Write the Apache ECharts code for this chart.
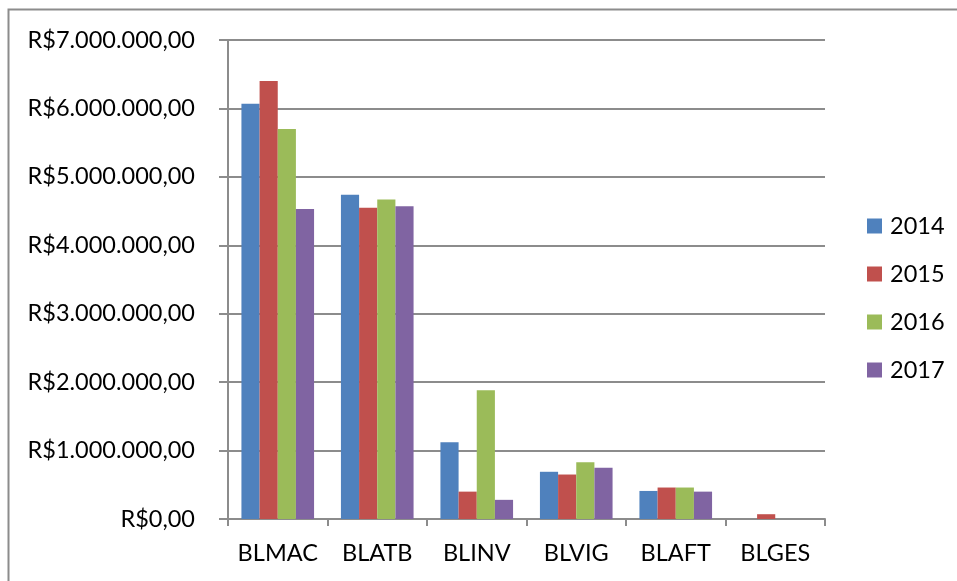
<!DOCTYPE html>
<html>
<head>
<meta charset="utf-8">
<script src="https://cdn.jsdelivr.net/npm/echarts@6/dist/echarts.min.js"></script>
<style>
  html, body { margin: 0; padding: 0; background: #fff; }
  #chart { width: 957px; height: 581px; }
</style>
</head>
<body>
<div id="chart"></div>
<script>
// Categories and yearly values (R$)
const categories = ['BLMAC', 'BLATB', 'BLINV', 'BLVIG', 'BLAFT', 'BLGES'];
const years = ['2014', '2015', '2016', '2017'];
const values2014 = [6070000, 4740000, 1120000, 690000, 410000, 0];
const values2015 = [6400000, 4550000, 400000, 650000, 460000, 70000];
const values2016 = [5700000, 4670000, 1880000, 830000, 460000, 0];
const values2017 = [4530000, 4570000, 280000, 750000, 400000, 0];
const seriesValues = [values2014, values2015, values2016, values2017];
const colors = ['#4F81BD', '#C0504D', '#9BBB59', '#8064A2'];

const FONT = 'Lato, "Open Sans", sans-serif';
const FONT_SIZE = 23.5;
const GRID_COLOR = '#8c8c8c';

function brl(v) {
  const s = Math.round(v).toString().replace(/\B(?=(\d{3})+(?!\d))/g, '.');
  return 'R$' + s + ',00';
}

const chart = echarts.init(document.getElementById('chart'), null, { renderer: 'canvas' });
chart.setOption({
  backgroundColor: '#ffffff',
  animation: false,
  textStyle: { fontFamily: FONT },
  graphic: [{
    type: 'rect',
    shape: { x: 8.5, y: 9.5, width: 1200, height: 1200 },
    style: { fill: 'none', stroke: '#8c8c8c', lineWidth: 2 },
    silent: true
  }],
  grid: { left: 228, right: 132, top: 40, bottom: 62, containLabel: false },
  legend: {
    orient: 'vertical',
    left: 867,
    top: 214,
    padding: 0,
    itemWidth: 15,
    itemHeight: 15,
    itemGap: 24,
    icon: 'rect',
    data: years,
    textStyle: { fontFamily: FONT, fontSize: FONT_SIZE, color: '#000', lineHeight: 22, padding: [0, 0, 0, 3] }
  },
  xAxis: {
    type: 'category',
    data: categories,
    axisLine: { lineStyle: { color: GRID_COLOR, width: 2 } },
    axisTick: { show: true, length: 7, lineStyle: { color: GRID_COLOR, width: 2 } },
    axisLabel: { interval: 0, fontFamily: FONT, fontSize: FONT_SIZE, color: '#000', margin: 22 }
  },
  yAxis: {
    type: 'value',
    min: 0,
    max: 7000000,
    interval: 1000000,
    axisLine: { show: true, lineStyle: { color: GRID_COLOR, width: 2 } },
    axisTick: { show: true, length: 9, lineStyle: { color: GRID_COLOR, width: 2 } },
    splitLine: { lineStyle: { color: GRID_COLOR, width: 2 } },
    axisLabel: { fontFamily: FONT, fontSize: FONT_SIZE, color: '#000', margin: 33, formatter: brl }
  },
  series: years.map((y, i) => ({
    name: y,
    type: 'bar',
    data: seriesValues[i],
    barGap: '0%',
    barCategoryGap: '27%',
    itemStyle: { color: colors[i] }
  }))
});
</script>
</body>
</html>
